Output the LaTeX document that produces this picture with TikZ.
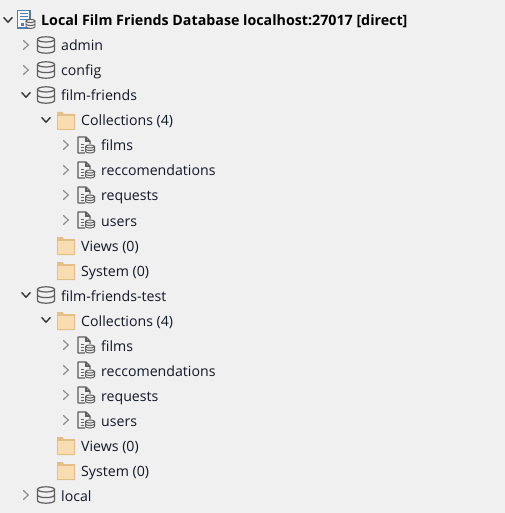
\documentclass[tikz,border=0pt]{standalone}
\usepackage{fontspec}
\setmainfont{Open Sans}
\definecolor{panel}{HTML}{F0F0F0}
\definecolor{rowtext}{HTML}{101828}
\definecolor{icongray}{HTML}{5E5E5E}
\definecolor{folderfill}{HTML}{F9DDB0}
\definecolor{folderedge}{HTML}{E3BE87}
\definecolor{rootblue}{HTML}{4F7FB0}
\tikzset{
  rowlabel/.style={anchor=base west,inner sep=0pt,text=rowtext,font=\fontsize{14.2}{16}\selectfont},
  rootlabel/.style={rowlabel,font=\fontsize{14.3}{16}\selectfont\bfseries,text=black},
  pics/chevclosed/.style={code={
    \draw[line width=1.2pt,color=gray!90,line cap=round] (-2.4,-4.4) -- (2.2,0) -- (-2.4,4.4);}},
  pics/chevopen/.style={code={
    \draw[line width=1.4pt,color=black!80,line cap=round] (-4.2,-2.4) -- (0,2.2) -- (4.2,-2.4);}},
  pics/dbicon/.style={code={
    \draw[line width=1.2pt,color=icongray] (-8.5,-5.6) -- (-8.5,5.6)
      arc[start angle=180,end angle=0,x radius=8.5,y radius=2.6] -- (8.5,-5.6);
    \draw[line width=1.2pt,color=icongray] (0,-5.6) ellipse (8.5 and 2.6);
    \draw[line width=1.2pt,color=icongray] (-8.5,0) arc[start angle=180,end angle=0,x radius=8.5,y radius=2.6];}},
  pics/foldericon/.style={code={
    \fill[folderedge] (-9,-9) -- (-3.5,-9) -- (-2,-7) -- (9,-7) -- (9,9) -- (-9,9) -- cycle;
    \fill[folderfill] (-7.8,-5) rectangle (7.8,7.8);}},
  pics/collicon/.style={code={
    \draw[line width=1.1pt,color=icongray,line join=round] (-1,8) -- (-8,8) -- (-8,-8) -- (0,-8) -- (4,-4) -- (4,-1);
    \draw[line width=1.1pt,color=icongray] (0,-8) -- (0,-4) -- (4,-4);
    \foreach \ly in {-1,2,5}
      \draw[line width=1pt,color=icongray] (-5.5,\ly) -- (-2,\ly);
    \draw[line width=1pt,color=icongray,fill=panel] (-0.5,1.5) -- (-0.5,6.5) arc[start angle=180,end angle=0,x radius=4.5,y radius=1.5] -- (8.5,1.5);
    \draw[line width=1pt,color=icongray,fill=panel] (4,1.5) ellipse (4.5 and 1.5);
    \draw[line width=1pt,color=icongray] (-0.5,4) arc[start angle=180,end angle=0,x radius=4.5,y radius=1.5];}},
  pics/rooticon/.style={code={
    \draw[line width=1.2pt,color=rootblue,fill=white!60!panel] (-8.5,-9.5) rectangle (4,8);
    \draw[line width=1pt,color=rootblue] (-6,-6.5) -- (1.5,-6.5) (-6,-3.5) -- (1.5,-3.5) (-6,-0.5) -- (1.5,-0.5);
    \fill[rootblue] (-5,3.5) rectangle (-2.5,6);
    \draw[line width=1pt,color=icongray,fill=panel] (0,1) -- (0,6.8) arc[start angle=180,end angle=0,x radius=4.5,y radius=1.6] -- (9,1);
    \draw[line width=1pt,color=icongray,fill=panel] (4.5,1) ellipse (4.5 and 1.6);
    \draw[line width=1pt,color=icongray] (0,4) arc[start angle=180,end angle=0,x radius=4.5,y radius=1.6];}},
}
\begin{document}
\begin{tikzpicture}[x=1bp,y=-1bp]
  \useasboundingbox[fill=panel] (0,0) rectangle (505,513);
  % root row
  \pic at (8,20) {chevopen};
  \pic at (26,20) {rooticon};
  \node[rootlabel] (root) at (41,26) {Local Film Friends Database localhost:27017 [direct]};
  % databases
  \foreach \y/\id/\name/\chev in {45/admin/admin/chevclosed,70/config/config/chevclosed,95/filmfriends/film-friends/chevopen,295/filmfriendstest/film-friends-test/chevopen,495/local/local/chevclosed}{
    \pic at (26,\y) {\chev};
    \pic at (46,\y) {dbicon};
    \node[rowlabel] (\id) at (61,\y+6) {\name};
  }
  % the two database subtrees
  \foreach \base/\sub in {95/a,295/b}{
    \pic at (46,\base+25) {chevopen};
    \pic at (66,\base+26) {foldericon};
    \node[rowlabel] (coll\sub) at (81,\base+31) {Collections (4)};
    \foreach \i/\id/\name in {1/films/films,2/recs/reccomendations,3/requests/requests,4/users/users}{
      \pic at (66,\base+25+25*\i) {chevclosed};
      \pic at (86,\base+25+25*\i) {collicon};
      \node[rowlabel] (\id\sub) at (101,\base+31+25*\i) {\name};
    }
    \pic at (66,\base+151) {foldericon};
    \node[rowlabel] (views\sub) at (81,\base+156) {Views (0)};
    \pic at (66,\base+176) {foldericon};
    \node[rowlabel] (system\sub) at (81,\base+181) {System (0)};
  }
\end{tikzpicture}
\end{document}
